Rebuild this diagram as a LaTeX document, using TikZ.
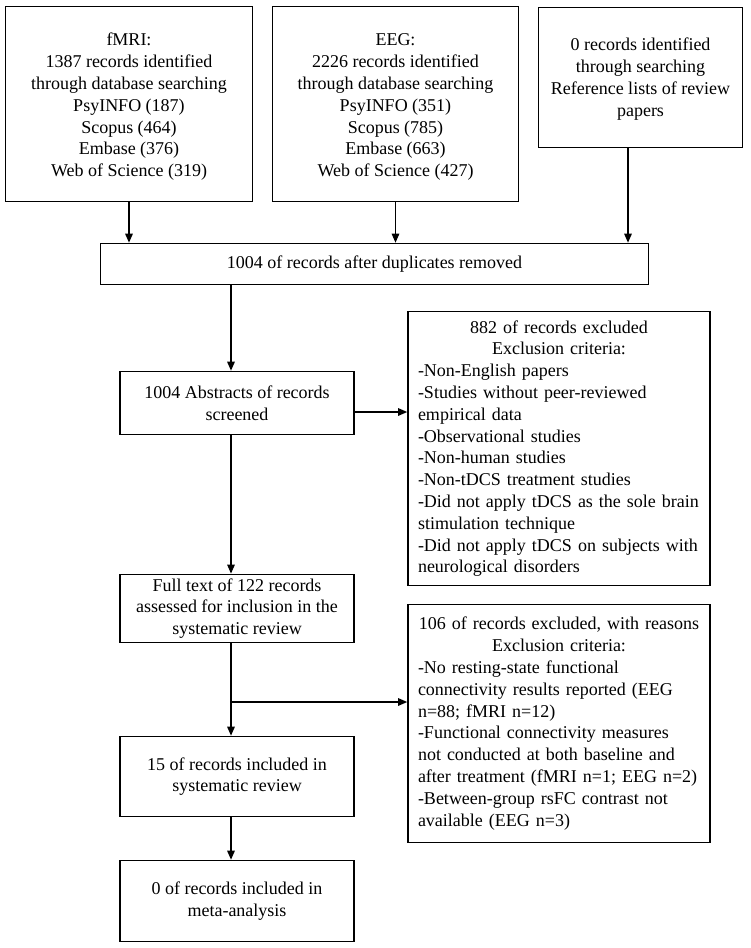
\documentclass[tikz,border=0pt]{standalone}
\usepackage{fontspec}
\setmainfont{Liberation Serif}
\usetikzlibrary{arrows.meta, positioning, calc}

\begin{document}
\begin{tikzpicture}[
  x=1pt, y=-1pt,
  pbox/.style={draw, line width=1.6pt, fill=white, align=center, inner sep=4pt, minimum width=234pt, font=\fontsize{18}{21.8}\selectfont},
  xbox/.style={draw, line width=1.6pt, fill=white, text width=282pt, inner xsep=10pt, inner ysep=4pt, font=\fontsize{18}{21.8}\selectfont},
  arr/.style={-{Triangle[length=9pt, width=7.5pt]}, line width=1.3pt}
]
  \useasboundingbox (0,0) rectangle (751,948);
  % identification
  \node[pbox, minimum width=247pt, minimum height=195pt] (fmri) at (129,104) {\rule{0pt}{18.5pt}fMRI:\\1387 records identified\\through database searching\\PsyINFO (187)\\Scopus (464)\\Embase (376)\\Web of Science (319)};
  \node[pbox, minimum width=246pt, minimum height=195pt] (eeg) at (395.5,104) {\rule{0pt}{18.5pt}EEG:\\2226 records identified\\through database searching\\PsyINFO (351)\\Scopus (785)\\Embase (663)\\Web of Science (427)};
  \node[pbox, minimum width=204pt, minimum height=140pt] (refl) at (640.5,77.5) {\rule{0pt}{16pt}0 records identified\\through searching\\Reference lists of review\\papers};
  \node[pbox, minimum width=548pt, minimum height=41pt] (dup) at (374.5,264) {1004 of records after duplicates removed};
  % screening
  \node[pbox, minimum height=63pt] (screen) at (237,403) {1004 Abstracts of records\\screened};
  \node[xbox, minimum height=274pt] (excl1) at (559,448.5) {{\centering 882 of records excluded\\Exclusion criteria:\par}\raggedright
    -Non-English papers\\-Studies without peer-reviewed\\empirical data\\-Observational studies\\-Non-human studies\\-Non-tDCS treatment studies\\-Did not apply tDCS as the sole brain\\stimulation technique\\-Did not apply tDCS on subjects with\\neurological disorders};
  % eligibility
  \node[pbox, minimum height=68pt] (full) at (237,608.5) {Full text of 122 records\\assessed for inclusion in the\\systematic review};
  \node[xbox, minimum height=238pt] (excl2) at (559,723.5) {{\centering 106 of records excluded, with reasons\\Exclusion criteria:\par}\raggedright
    -No resting-state functional\\connectivity results reported (EEG\\n=88; fMRI n=12)\\-Functional connectivity measures\\not conducted at both baseline and\\after treatment (fMRI n=1; EEG n=2)\\-Between-group rsFC contrast not\\available (EEG n=3)};
  % included
  \node[pbox, minimum height=80pt] (incl) at (237,776.5) {15 of records included in\\systematic review};
  \node[pbox, minimum height=81pt] (meta) at (237,901) {0 of records included in\\meta-analysis};

  \coordinate (spine) at (231,0);
  \coordinate (br) at (231,702);
  \draw[arr] (fmri.south) -- (fmri.south |- dup.north);
  \draw[arr] (eeg.south) -- (eeg.south |- dup.north);
  \draw[arr] ([xshift=-12.5pt]refl.south) -- ([xshift=-12.5pt]refl.south |- dup.north);
  \draw[arr] (spine |- dup.south) -- (spine |- screen.north);
  \draw[arr] ([yshift=-9pt]screen.east) -- ([yshift=-9pt]screen.east -| excl1.west);
  \draw[arr] (spine |- screen.south) -- (spine |- full.north);
  \draw[arr] (spine |- full.south) -- (spine |- incl.north);
  \draw[arr] (br) -- (br -| excl2.west);
  \draw[arr] (spine |- incl.south) -- (spine |- meta.north);
\end{tikzpicture}
\end{document}
